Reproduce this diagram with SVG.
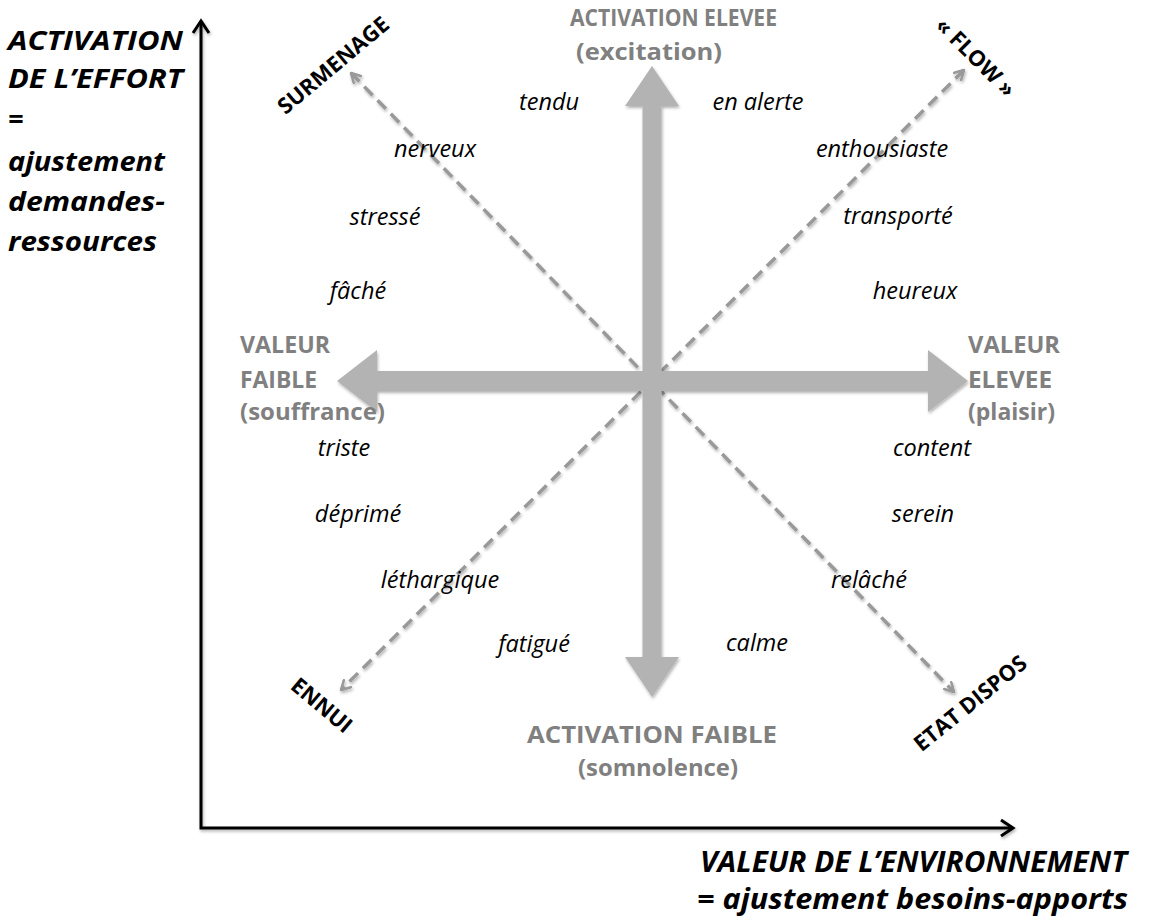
<svg xmlns="http://www.w3.org/2000/svg" width="1151" height="922" viewBox="0 0 1151 922">
<style>
  .word { font-family: "Open Sans", "Liberation Sans", sans-serif; font-style: italic; font-size: 23.5px; fill: #000; text-anchor: middle; }
  .pole { font-family: "Open Sans", "Liberation Sans", sans-serif; font-weight: bold; fill: #808080; }
  .corner { font-family: "Open Sans", "Liberation Sans", sans-serif; font-weight: bold; font-size: 22px; fill: #000; text-anchor: middle; }
  .title { font-family: "Open Sans", "Liberation Sans", sans-serif; font-weight: bold; font-style: italic; fill: #000; }
  .diag { fill: none; stroke: #999; stroke-width: 3.5; stroke-dasharray: 12 7; }
  .bigarrow { fill: #b3b3b3; }
  .axis { fill: none; stroke: #000; stroke-width: 3; }
</style>
<defs>
  <filter id="sh" x="-10%" y="-10%" width="120%" height="120%">
    <feDropShadow dx="1" dy="2" stdDeviation="1.5" flood-color="#000" flood-opacity="0.3"/>
  </filter>
  <marker id="chev" viewBox="0 0 12 12" refX="10" refY="6" markerWidth="12" markerHeight="12" markerUnits="userSpaceOnUse" orient="auto-start-reverse">
    <path d="M1,1 L10,6 L1,11" fill="none" stroke="#999" stroke-width="2.5" stroke-linecap="round" stroke-linejoin="round"/>
  </marker>
</defs>
<rect width="1151" height="922" fill="#fff"/>

<g id="axes" filter="url(#sh)">
  <path class="axis" d="M201,21 L201,828 L1013,828"/>
  <path class="axis" d="M193,33 L201,21 L209,33"/>
  <path class="axis" d="M1001,820 L1013,828 L1001,836"/>
</g>

<g id="connectors">
  <line class="diag" x1="351" y1="73" x2="954" y2="692" marker-start="url(#chev)" marker-end="url(#chev)" filter="url(#sh)"/>
  <line class="diag" x1="964" y1="70" x2="341" y2="690" marker-start="url(#chev)" marker-end="url(#chev)" filter="url(#sh)"/>
  <g filter="url(#sh)">
    <polygon class="bigarrow" points="652,66 679,106 661.5,106 661.5,657 679,657 652,697 625,657 642.5,657 642.5,106 625,106"/>
    <polygon class="bigarrow" points="337,381 377,350 377,371 928,371 928,350 968,381 928,412 928,391 377,391 377,412"/>
  </g>
</g>

<g id="axis-y-title">
  <text class="title" font-size="27" x="8" y="50" textLength="175" lengthAdjust="spacingAndGlyphs">ACTIVATION</text>
  <text class="title" font-size="27" x="8" y="88" textLength="175" lengthAdjust="spacingAndGlyphs">DE L’EFFORT</text>
  <text class="title" font-size="27" x="8" y="129">=</text>
  <text class="title" font-size="27" x="8" y="171" textLength="157" lengthAdjust="spacingAndGlyphs">ajustement</text>
  <text class="title" font-size="27" x="8" y="211" textLength="157" lengthAdjust="spacingAndGlyphs">demandes-</text>
  <text class="title" font-size="27" x="8" y="251" textLength="149" lengthAdjust="spacingAndGlyphs">ressources</text>
</g>

<g id="axis-x-title">
  <text class="title" font-size="28" x="700" y="872" textLength="427" lengthAdjust="spacingAndGlyphs">VALEUR DE L’ENVIRONNEMENT</text>
  <text class="title" font-size="28" x="697" y="909" textLength="431" lengthAdjust="spacingAndGlyphs">= ajustement besoins-apports</text>
</g>

<g id="pole-top">
  <text class="pole" font-size="22.5" x="570" y="26" textLength="207" lengthAdjust="spacingAndGlyphs">ACTIVATION ELEVEE</text>
  <text class="pole" font-size="23" x="576" y="60" textLength="146" lengthAdjust="spacingAndGlyphs">(excitation)</text>
</g>
<g id="pole-bottom">
  <text class="pole" font-size="24" x="527" y="743" textLength="250" lengthAdjust="spacingAndGlyphs">ACTIVATION FAIBLE</text>
  <text class="pole" font-size="24" x="578" y="776" textLength="160" lengthAdjust="spacingAndGlyphs">(somnolence)</text>
</g>
<g id="pole-left">
  <text class="pole" font-size="24" x="240" y="353" textLength="90" lengthAdjust="spacingAndGlyphs">VALEUR</text>
  <text class="pole" font-size="24" x="240" y="388" textLength="77" lengthAdjust="spacingAndGlyphs">FAIBLE</text>
  <text class="pole" font-size="24" x="240" y="420" textLength="145" lengthAdjust="spacingAndGlyphs">(souffrance)</text>
</g>
<g id="pole-right">
  <text class="pole" font-size="24" x="968" y="353" textLength="92" lengthAdjust="spacingAndGlyphs">VALEUR</text>
  <text class="pole" font-size="24" x="968" y="388" textLength="84" lengthAdjust="spacingAndGlyphs">ELEVEE</text>
  <text class="pole" font-size="24" x="968" y="420" textLength="87" lengthAdjust="spacingAndGlyphs">(plaisir)</text>
</g>

<g id="corner-surmenage"><text class="corner" font-size="23.5" transform="translate(333,65) rotate(-40)" y="8">SURMENAGE</text></g>
<g id="corner-flow"><text class="corner" transform="translate(976,57) rotate(45)" y="8">« FLOW »</text></g>
<g id="corner-ennui"><text class="corner" transform="translate(322,705) rotate(40)" y="8">ENNUI</text></g>
<g id="corner-etat-dispos"><text class="corner" transform="translate(970,703) rotate(-39)" y="8">ETAT DISPOS</text></g>

<g id="words">
  <text class="word" x="549" y="110">tendu</text>
  <text class="word" x="758" y="110">en alerte</text>
  <text class="word" x="435" y="157">nerveux</text>
  <text class="word" x="882" y="157">enthousiaste</text>
  <text class="word" x="385" y="225">stressé</text>
  <text class="word" x="898" y="224">transporté</text>
  <text class="word" x="358" y="299">fâché</text>
  <text class="word" x="915" y="299">heureux</text>
  <text class="word" x="344" y="456">triste</text>
  <text class="word" x="932" y="456">content</text>
  <text class="word" x="358" y="522">déprimé</text>
  <text class="word" x="923" y="522">serein</text>
  <text class="word" x="440" y="588">léthargique</text>
  <text class="word" x="869" y="588">relâché</text>
  <text class="word" x="534" y="652">fatigué</text>
  <text class="word" x="757" y="651">calme</text>
</g>
</svg>
